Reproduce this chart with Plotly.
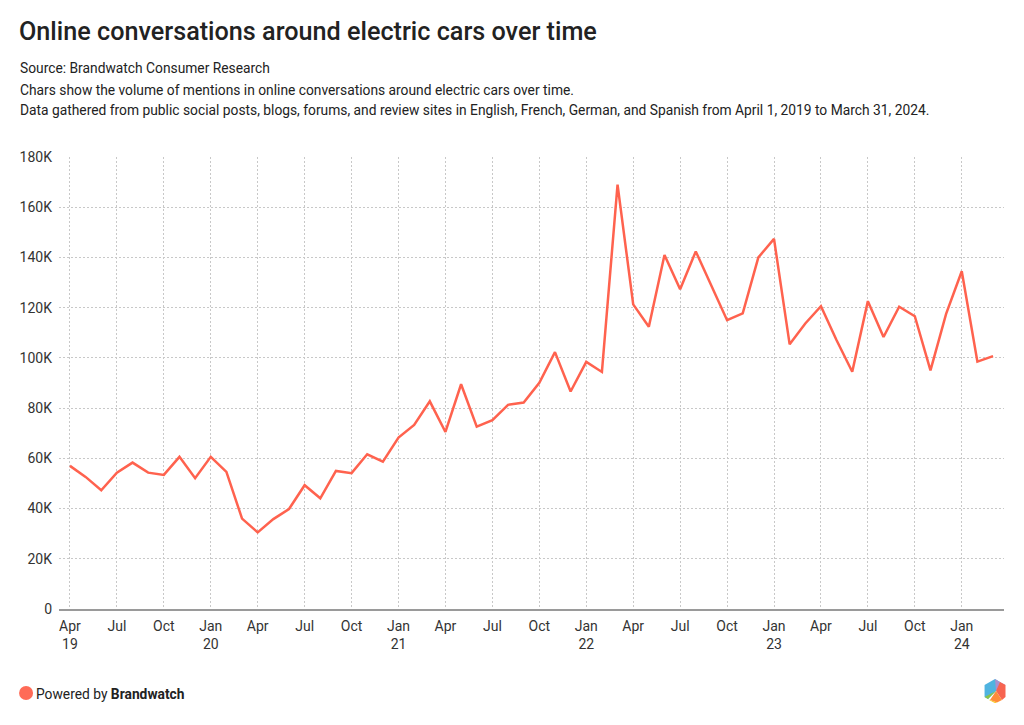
import plotly.graph_objects as go

# ---- data ----
months = ["2019-04","2019-05","2019-06","2019-07","2019-08","2019-09","2019-10","2019-11","2019-12",
          "2020-01","2020-02","2020-03","2020-04","2020-05","2020-06","2020-07","2020-08","2020-09","2020-10","2020-11","2020-12",
          "2021-01","2021-02","2021-03","2021-04","2021-05","2021-06","2021-07","2021-08","2021-09","2021-10","2021-11","2021-12",
          "2022-01","2022-02","2022-03","2022-04","2022-05","2022-06","2022-07","2022-08","2022-09","2022-10","2022-11","2022-12",
          "2023-01","2023-02","2023-03","2023-04","2023-05","2023-06","2023-07","2023-08","2023-09","2023-10","2023-11","2023-12",
          "2024-01","2024-02","2024-03"]
mentions = [57000, 52600, 47300, 54300, 58300, 54300, 53400, 60600, 52100,
            60600, 54600, 36000, 30500, 35800, 39800, 49300, 44100, 55000, 54100, 61600, 58700,
            68300, 73300, 82700, 70500, 89500, 72600, 75200, 81300, 82200, 90100, 102300, 86600,
            98400, 94400, 169000, 121300, 112400, 141000, 127300, 142400, 129000, 115000, 117700, 140000,
            147400, 105400, 113700, 120600, 107000, 94500, 122600, 108300, 120400, 116600, 95000, 117500,
            134500, 98500, 100700]
tick_months = ["2019-04","2019-07","2019-10","2020-01","2020-04","2020-07","2020-10","2021-01","2021-04",
               "2021-07","2021-10","2022-01","2022-04","2022-07","2022-10","2023-01","2023-04","2023-07",
               "2023-10","2024-01"]
tick_text = ["Apr<br>19","Jul","Oct","Jan<br>20","Apr","Jul","Oct","Jan<br>21","Apr","Jul","Oct",
             "Jan<br>22","Apr","Jul","Oct","Jan<br>23","Apr","Jul","Oct","Jan<br>24"]
y_ticks = [0, 20000, 40000, 60000, 80000, 100000, 120000, 140000, 160000, 180000]
y_text = ["0","20K","40K","60K","80K","100K","120K","140K","160K","180K"]

x_idx = list(range(len(months)))
tick_idx = [months.index(m) for m in tick_months]

OFF = 8  # page body margin
W, H = 1024 - OFF, 725 - OFF
L, R, T, B = 57 - OFF, 1004 - OFF, 157 - OFF, 609 - OFF

def px(x):
    return (x - OFF - L) / (R - L)

def py(y):
    return (B - (y - OFF)) / (B - T)

fig = go.Figure()
fig.add_trace(go.Scatter(x=x_idx, y=mentions, mode="lines",
                         line=dict(color="#FF624E", width=2.5), hoverinfo="skip"))

font = "Roboto, Arial, sans-serif"
grid = dict(showgrid=True, gridcolor="#c8c8c8", griddash="2px,2px", gridwidth=1)
fig.update_layout(
    width=W, height=H,
    margin=dict(l=L, r=W - R, t=T, b=H - B),
    paper_bgcolor="white", plot_bgcolor="white",
    showlegend=False,
    font=dict(family=font, color="#333333", size=14),
    xaxis=dict(range=[-0.7, len(months) - 1 + 0.7], tickmode="array", tickvals=tick_idx, ticktext=tick_text,
               showline=True, linecolor="#9a9a9a", linewidth=1.5, zeroline=False, ticklabelstandoff=3,
               ticks="", tickfont=dict(size=14, color="#333333"), fixedrange=True, **grid),
    yaxis=dict(range=[0, 180000], tickmode="array", tickvals=y_ticks, ticktext=y_text,
               zeroline=False, showline=False, ticks="", ticklabelstandoff=6,
               tickfont=dict(size=14, color="#333333"), fixedrange=True, **grid),
)

ann = [
    dict(text="Online conversations around electric cars over time", x=px(15), y=py(32),
         font=dict(size=25.2, color="#222222", family=font, weight=500)),
    dict(text="Source: Brandwatch Consumer Research", x=px(15.5), y=py(68.5), font=dict(size=13.8, color="#222222")),
    dict(text="Chars show the volume of mentions in online conversations around electric cars over time.",
         x=px(15.5), y=py(89.5), font=dict(size=13.8, color="#222222")),
    dict(text="Data gathered from public social posts, blogs, forums, and review sites in English, French, German, and Spanish from April 1, 2019 to March 31, 2024.",
         x=px(15.5), y=py(110.5), font=dict(size=13.8, color="#222222")),
    dict(text="Powered by <b>Brandwatch</b>", x=px(31.5), y=py(693.5), font=dict(size=13.8, color="#222222")),
]
for a in ann:
    fig.add_annotation(xref="paper", yref="paper", xanchor="left", yanchor="middle",
                       showarrow=False, **a)

# footer dot
fig.add_shape(type="circle", xref="paper", yref="paper",
              x0=px(17), x1=px(31), y0=py(700), y1=py(686),
              fillcolor="#FF6B57", line=dict(width=0))

# hexagon logo
def path(points):
    return "M " + " L ".join(f"{px(a)},{py(b)}" for a, b in points) + " Z"

c = (996, 691)
top = (995, 679); ur = (1005.5, 685); lr = (1005.5, 697); bot = (995, 703); ll = (984.5, 697); ul = (984.5, 685)
pieces = [
    ([ll, ul, top, (1000, 682), c, (988, 699)], "#4FB3E0"),
    ([top, (1000, 682), ur, c], "#A990CF"),
    ([(1000, 682), ur, lr, (1002, 700), c], "#F76450"),
    ([c, (1002, 700), (997, 702.5), (990, 700)], "#FF8C3A"),
    ([(990, 700), (997, 702.5), bot, (989, 700)], "#FFC20E"),
    ([ll, (988, 699), c], "#8BC34A"),
    ([ll, (990, 700), (993, 702), bot], "#8BC34A"),
]
for pts, col in pieces:
    fig.add_shape(type="path", xref="paper", yref="paper", path=path(pts),
                  fillcolor=col, line=dict(width=0), layer="above")

fig.write_html("out.html")
